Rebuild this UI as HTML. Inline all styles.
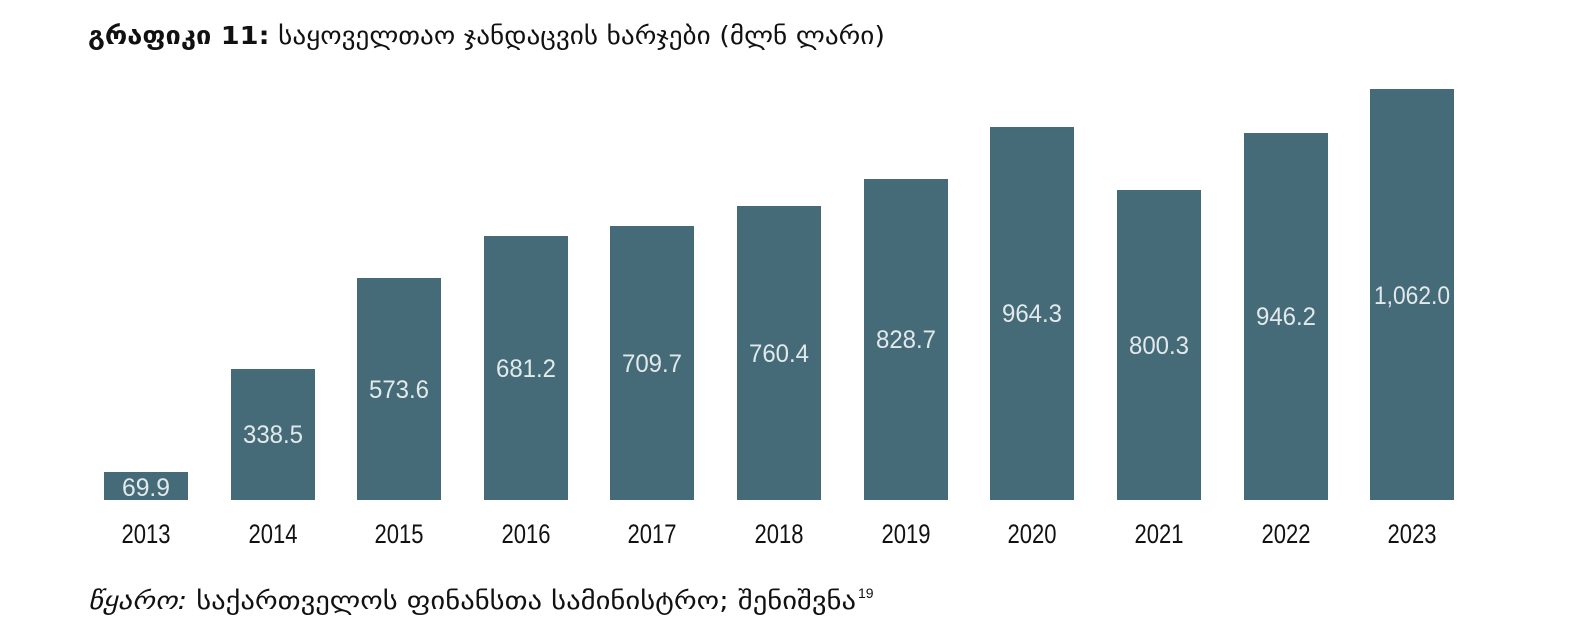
<!DOCTYPE html>
<html><head><meta charset="utf-8"><style>
html,body{margin:0;padding:0;background:#fff;}
svg{display:block;}
</style></head><body>
<svg width="1592" height="624" viewBox="0 0 1592 624" xmlns="http://www.w3.org/2000/svg">
<text x="88" y="44" font-family="'DejaVu Sans', 'Liberation Sans', sans-serif" font-size="25" fill="#111" textLength="797" lengthAdjust="spacingAndGlyphs"><tspan font-weight="bold">გრაფიკი 11:</tspan> საყოველთაო ჯანდაცვის ხარჯები (მლნ ლარი)</text>
<g fill="#466b78">
<rect x="104" y="472" width="84" height="28"/>
<rect x="231" y="369" width="84" height="131"/>
<rect x="357" y="278" width="84" height="222"/>
<rect x="484" y="236" width="84" height="264"/>
<rect x="610" y="226" width="84" height="274"/>
<rect x="737" y="206" width="84" height="294"/>
<rect x="864" y="179" width="84" height="321"/>
<rect x="990" y="127" width="84" height="373"/>
<rect x="1117" y="190" width="84" height="310"/>
<rect x="1244" y="133" width="84" height="367"/>
<rect x="1370" y="89" width="84" height="411"/>
</g>
<g font-family="'Liberation Sans Narrow','Liberation Sans',sans-serif" font-size="25" fill="#e2e9eb" text-anchor="middle">
<text x="146" y="496" textLength="48" lengthAdjust="spacingAndGlyphs">69.9</text>
<text x="273" y="443" textLength="60" lengthAdjust="spacingAndGlyphs">338.5</text>
<text x="399" y="398" textLength="60" lengthAdjust="spacingAndGlyphs">573.6</text>
<text x="526" y="377" textLength="60" lengthAdjust="spacingAndGlyphs">681.2</text>
<text x="652" y="372" textLength="60" lengthAdjust="spacingAndGlyphs">709.7</text>
<text x="779" y="362" textLength="60" lengthAdjust="spacingAndGlyphs">760.4</text>
<text x="906" y="348" textLength="60" lengthAdjust="spacingAndGlyphs">828.7</text>
<text x="1032" y="322" textLength="60" lengthAdjust="spacingAndGlyphs">964.3</text>
<text x="1159" y="354" textLength="60" lengthAdjust="spacingAndGlyphs">800.3</text>
<text x="1286" y="325" textLength="60" lengthAdjust="spacingAndGlyphs">946.2</text>
<text x="1412" y="304" textLength="76" lengthAdjust="spacingAndGlyphs">1,062.0</text>
</g>
<g font-family="'Liberation Sans Narrow','Liberation Sans',sans-serif" font-size="27" fill="#111" text-anchor="middle">
<text x="146" y="543" textLength="49" lengthAdjust="spacingAndGlyphs">2013</text>
<text x="273" y="543" textLength="49" lengthAdjust="spacingAndGlyphs">2014</text>
<text x="399" y="543" textLength="49" lengthAdjust="spacingAndGlyphs">2015</text>
<text x="526" y="543" textLength="49" lengthAdjust="spacingAndGlyphs">2016</text>
<text x="652" y="543" textLength="49" lengthAdjust="spacingAndGlyphs">2017</text>
<text x="779" y="543" textLength="49" lengthAdjust="spacingAndGlyphs">2018</text>
<text x="906" y="543" textLength="49" lengthAdjust="spacingAndGlyphs">2019</text>
<text x="1032" y="543" textLength="49" lengthAdjust="spacingAndGlyphs">2020</text>
<text x="1159" y="543" textLength="49" lengthAdjust="spacingAndGlyphs">2021</text>
<text x="1286" y="543" textLength="49" lengthAdjust="spacingAndGlyphs">2022</text>
<text x="1412" y="543" textLength="49" lengthAdjust="spacingAndGlyphs">2023</text>
</g>
<text x="88" y="609" font-family="'DejaVu Sans', 'Liberation Sans', sans-serif" font-size="25" fill="#111" textLength="768" lengthAdjust="spacingAndGlyphs"><tspan font-style="italic">წყარო:</tspan> საქართველოს ფინანსთა სამინისტრო; შენიშვნა</text>
<text x="858" y="598" font-family="'Liberation Sans', sans-serif" font-size="14" fill="#111">19</text>
</svg>
</body></html>
